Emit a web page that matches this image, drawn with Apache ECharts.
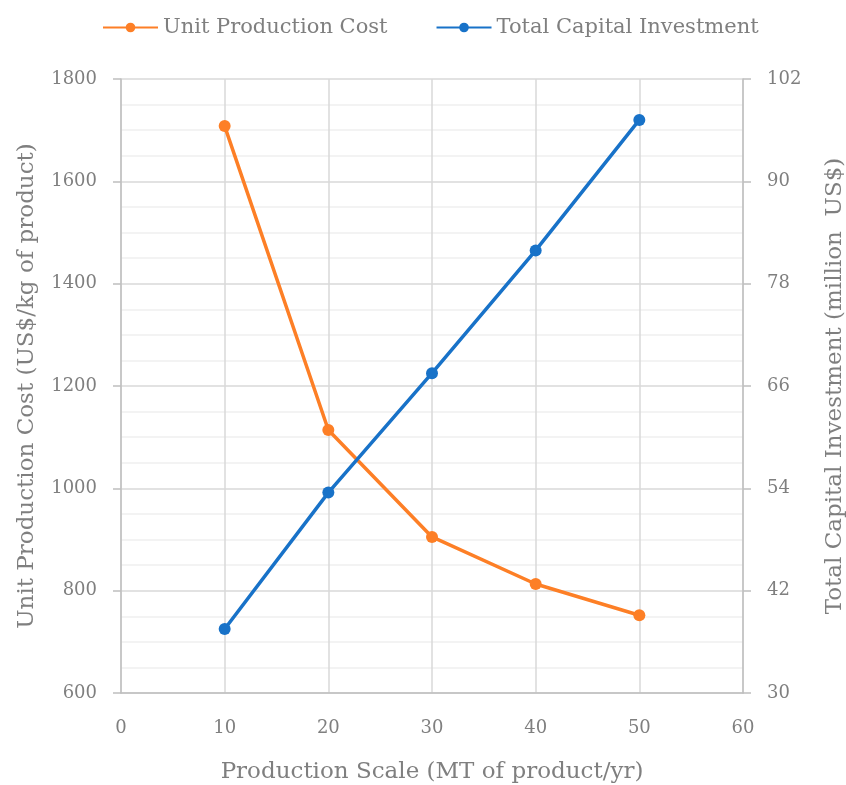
<!DOCTYPE html>
<html><head><meta charset="utf-8">
<script src="https://cdn.jsdelivr.net/npm/echarts@6/dist/echarts.min.js"></script>
<style>html,body{margin:0;padding:0;background:#fff}#c{width:846px;height:785px}</style>
</head><body><div id="c"></div>
<script>
const scale = [10, 20, 30, 40, 50];
const unitCost = [1708, 1114, 905, 813, 752];
const capital = [37.5, 53.5, 67.5, 81.9, 97.2];
const FONT = 'DejaVu Serif';
const GRAY = '#7f7f7f';
const chart = echarts.init(document.getElementById('c'));
chart.setOption({
  animation: false,
  textStyle: {fontFamily: FONT},
  legend: {
    top: 12, left: 97, itemWidth: 55, itemHeight: 12, itemGap: 48,
    textStyle: {fontFamily: FONT, fontSize: 21, color: GRAY},
    data: ['Unit Production Cost', 'Total Capital Investment']
  },
  grid: {left: 121, right: 103, top: 79, bottom: 92, outerBoundsMode: 'none', containLabel: false},
  xAxis: {
    type: 'value', min: 0, max: 60, interval: 10,
    name: 'Production Scale (MT of product/yr)', nameLocation: 'middle', nameGap: 68,
    nameTextStyle: {fontFamily: FONT, fontSize: 23, color: GRAY},
    axisLine: {show: true, lineStyle: {color: '#bfbfbf', width: 1.5}},
    axisTick: {show: false},
    axisLabel: {fontFamily: FONT, fontSize: 18, color: GRAY, margin: 26},
    splitLine: {show: true, lineStyle: {color: '#d9d9d9', width: 1.5}}
  },
  yAxis: [{
    type: 'value', min: 600, max: 1800, interval: 200, position: 'left',
    name: 'Unit Production Cost (US$/kg of product)', nameLocation: 'middle', nameGap: 82,
    nameTextStyle: {fontFamily: FONT, fontSize: 23, color: GRAY},
    axisLine: {show: true, lineStyle: {color: '#bfbfbf', width: 1.5}},
    axisTick: {show: true, length: 8, lineStyle: {color: '#bfbfbf', width: 1.5}},
    axisLabel: {fontFamily: FONT, fontSize: 18, color: GRAY, margin: 24, formatter: v => String(v)},
    splitLine: {show: true, lineStyle: {color: '#d9d9d9', width: 1.5}},
    minorTick: {show: false, splitNumber: 4},
    minorSplitLine: {show: true, lineStyle: {color: '#f0f0f0', width: 1.5}}
  }, {
    type: 'value', min: 30, max: 102, interval: 12, position: 'right',
    name: 'Total Capital Investment (million  US$)', nameLocation: 'middle', nameGap: 81,
    nameTextStyle: {fontFamily: FONT, fontSize: 23, color: GRAY},
    axisLine: {show: true, lineStyle: {color: '#bfbfbf', width: 1.5}},
    axisTick: {show: true, length: 8, lineStyle: {color: '#bfbfbf', width: 1.5}},
    axisLabel: {fontFamily: FONT, fontSize: 18, color: GRAY, margin: 24, formatter: v => String(v)},
    splitLine: {show: false}
  }],
  series: [{
    name: 'Unit Production Cost', type: 'line', yAxisIndex: 0,
    data: scale.map((x, i) => [x, unitCost[i]]),
    symbol: 'circle', symbolSize: 12,
    itemStyle: {color: '#fd7f26'},
    lineStyle: {color: '#fd7f26', width: 3.5}
  }, {
    name: 'Total Capital Investment', type: 'line', yAxisIndex: 1,
    data: scale.map((x, i) => [x, capital[i]]),
    symbol: 'circle', symbolSize: 12,
    itemStyle: {color: '#1872c8'},
    lineStyle: {color: '#1872c8', width: 3.5}
  }]
});
</script></body></html>
